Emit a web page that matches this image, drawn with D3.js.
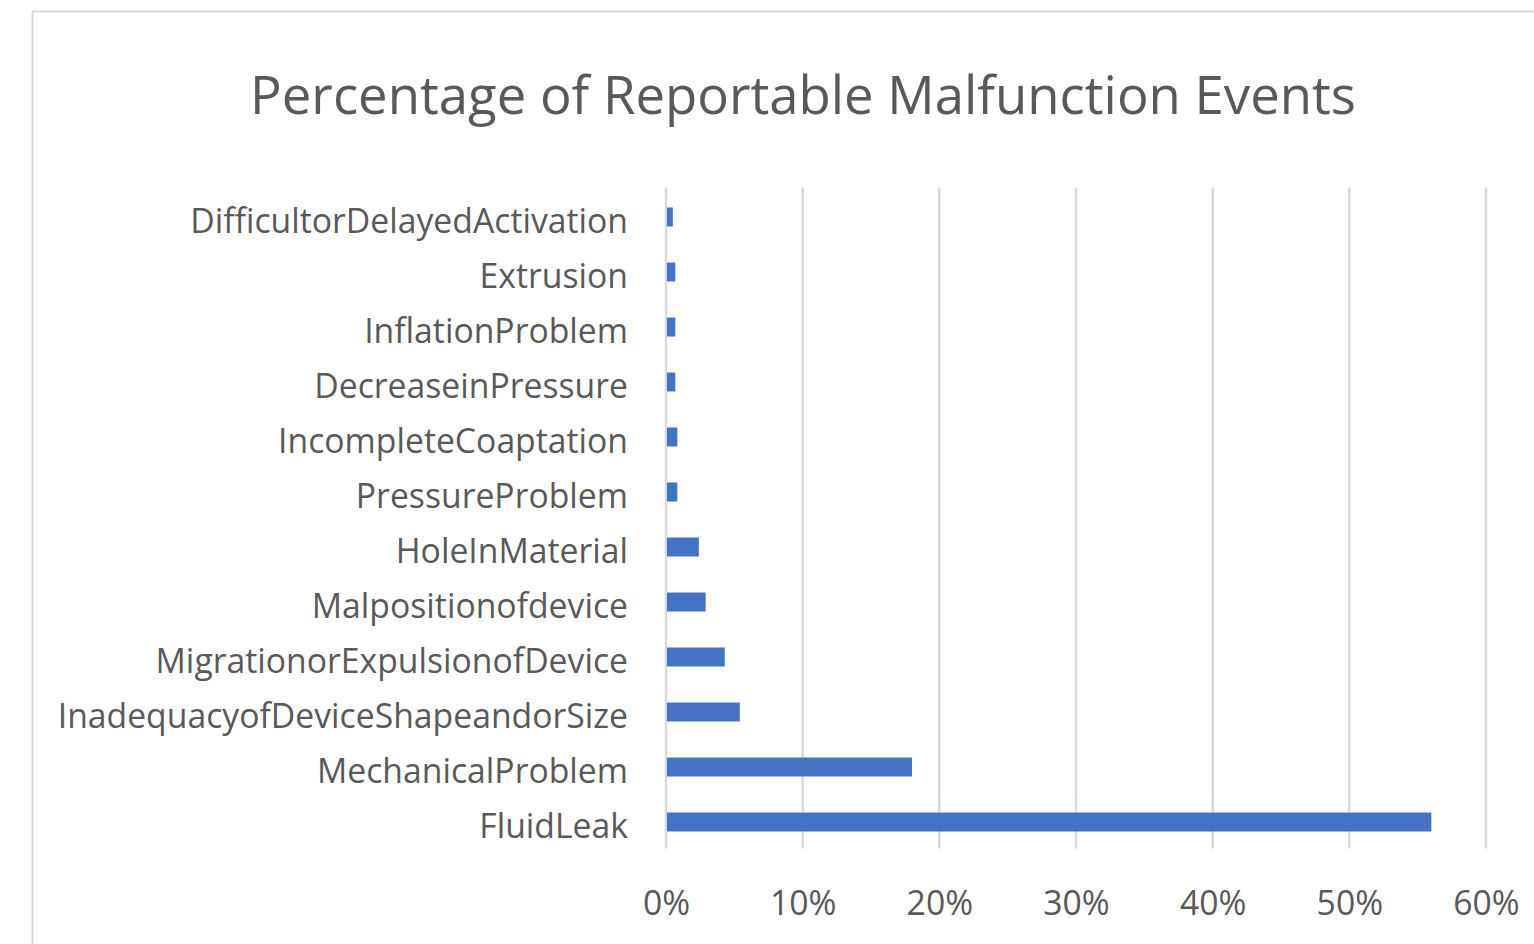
<!DOCTYPE html>
<html>
<head>
<meta charset="utf-8">
<script src="https://cdn.jsdelivr.net/npm/d3@7"></script>
<style>
  html, body { margin: 0; padding: 0; background: #fff; }
  svg { display: block; }
  text { font-family: "Open Sans", "Liberation Sans", sans-serif; fill: #595959; }
</style>
</head>
<body>
<svg id="chart" width="1534" height="944"></svg>
<script>
const chartTitle = "Percentage of Reportable Malfunction Events";
const categories = [
  "DifficultorDelayedActivation",
  "Extrusion",
  "InflationProblem",
  "DecreaseinPressure",
  "IncompleteCoaptation",
  "PressureProblem",
  "HoleInMaterial",
  "Malpositionofdevice",
  "MigrationorExpulsionofDevice",
  "InadequacyofDeviceShapeandorSize",
  "MechanicalProblem",
  "FluidLeak"
];
const values = [0.5, 0.68, 0.68, 0.68, 0.83, 0.83, 2.4, 2.9, 4.3, 5.4, 18.0, 56.0];
const xTicks = [0, 10, 20, 30, 40, 50, 60];

const svg = d3.select("#chart");

// chart frame
svg.append("rect")
  .attr("x", 32.5).attr("y", 11.5)
  .attr("width", 1540).attr("height", 960)
  .attr("fill", "#fff").attr("stroke", "#d9d9d9").attr("stroke-width", 2);

const plot = { left: 666, right: 1486, top: 189.5, bottom: 849.5 };

const x = d3.scaleLinear().domain([0, 60]).range([plot.left, plot.right]);
const y = d3.scaleBand().domain(categories).range([plot.top, plot.bottom]).paddingInner(0.655).paddingOuter(0.3275);

function fitFont(sel, target) {
  const w = sel.node().getComputedTextLength();
  const fs = parseFloat(sel.attr("font-size"));
  sel.attr("font-size", fs * target / w);
}

// gridlines
svg.append("g").selectAll("line").data(xTicks).join("line")
  .attr("x1", d => x(d)).attr("x2", d => x(d))
  .attr("y1", plot.top - 2).attr("y2", plot.bottom - 1)
  .attr("stroke", "#d9d9d9").attr("stroke-width", 2.5);

// bars
svg.append("g").selectAll("rect").data(values).join("rect")
  .attr("x", x(0) + 1)
  .attr("y", (d, i) => y(categories[i]))
  .attr("width", d => x(d) - x(0) - 1)
  .attr("height", y.bandwidth())
  .attr("fill", "#4472C4");

// x axis
const xAxis = d3.axisBottom(x).tickValues(xTicks).tickFormat(d => d + "%").tickSize(0).tickPadding(0);
const gx = svg.append("g").attr("transform", `translate(0, 915)`).call(xAxis);
gx.select(".domain").remove();
gx.selectAll("text")
  .attr("dy", 0).attr("y", 0)
  .attr("font-size", 30)
  .style("font-family", '"Open Sans", sans-serif')
  .attr("fill", "#595959");

// y axis
const yAxis = d3.axisLeft(y).tickSize(0).tickPadding(0);
const gy = svg.append("g").attr("transform", `translate(628, 4)`).call(yAxis);
gy.select(".domain").remove();
gy.selectAll("text")
  .attr("x", 0).attr("dy", "0.36em")
  .attr("font-size", 30)
  .style("font-family", '"Open Sans", sans-serif')
  .attr("fill", "#595959");

let ref = gy.selectAll("text").filter(d => d === "DifficultorDelayedActivation");
const w0 = ref.node().getComputedTextLength();
const labelSize = 30 * 438 / w0;
gy.selectAll("text").attr("font-size", labelSize);
gx.selectAll("text").attr("font-size", labelSize);

// title
const t = svg.append("text")
  .attr("x", 803).attr("y", 114)
  .attr("text-anchor", "middle")
  .attr("font-size", 50)
  .text(chartTitle);
fitFont(t, 1106);
</script>
</body>
</html>
